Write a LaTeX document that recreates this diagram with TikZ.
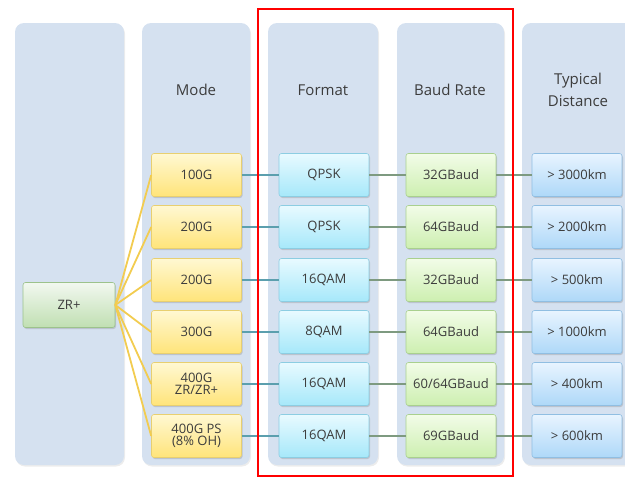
\documentclass[tikz,border=0pt]{standalone}
\usepackage{fontspec}
\setmainfont{Open Sans}
\usetikzlibrary{shadows}
\definecolor{panel}{HTML}{D5E1F0}
\definecolor{txt}{HTML}{3C3C3C}
\definecolor{fanc}{HTML}{F2CC50}
\definecolor{tealc}{HTML}{5B9FAE}
\definecolor{greyg}{HTML}{7E9A80}
\definecolor{mtop}{HTML}{FFF8D2}\definecolor{mbot}{HTML}{FFE47A}\definecolor{mdr}{HTML}{E8CF70}
\definecolor{ftop}{HTML}{E8FAFF}\definecolor{fbot}{HTML}{A6E8FA}\definecolor{fdr}{HTML}{8CCDE2}
\definecolor{btop}{HTML}{F2FCE8}\definecolor{bbot}{HTML}{CDEFB0}\definecolor{bdr}{HTML}{A9D08E}
\definecolor{dtop}{HTML}{E8F4FF}\definecolor{dbot}{HTML}{AED8F8}\definecolor{ddr}{HTML}{90BEE2}
\definecolor{ztop}{HTML}{F2F8F0}\definecolor{zbot}{HTML}{C0DFB2}\definecolor{zdr}{HTML}{9CC28C}
\tikzset{
  panelbox/.style={fill=panel, rounded corners=9pt, drop shadow={opacity=0.15, shadow xshift=1pt, shadow yshift=-1.5pt}},
  cell/.style={minimum width=90pt, minimum height=43pt, rounded corners=2.5pt, inner sep=1pt, align=center,
     font=\fontsize{13}{14}\selectfont, text=txt, line width=0.6pt,
     drop shadow={opacity=0.3, shadow xshift=1pt, shadow yshift=-1.5pt}},
  modebox/.style={cell, top color=mtop, bottom color=mbot, draw=mdr},
  fmtbox/.style={cell, top color=ftop, bottom color=fbot, draw=fdr},
  baudbox/.style={cell, top color=btop, bottom color=bbot, draw=bdr},
  distbox/.style={cell, top color=dtop, bottom color=dbot, draw=ddr},
  zrbox/.style={cell, minimum width=92pt, minimum height=45pt, top color=ztop, bottom color=zbot, draw=zdr},
  head/.style={font=\fontsize{15}{22}\selectfont, text=txt, align=center},
  fan/.style={draw=fanc, line width=1.8pt},
  linkA/.style={draw=tealc, line width=1.3pt},
  linkB/.style={draw=greyg, line width=1.3pt}
}
\begin{document}
\begin{tikzpicture}[x=1pt, y=-1pt]
\useasboundingbox (0,0) rectangle (625,477);
% panels
\fill[panelbox] (15,23) rectangle (124,465);
\fill[panelbox] (142,23) rectangle (250,465);
\fill[panelbox] (268,23) rectangle (378,465);
\fill[panelbox] (397,23) rectangle (504,465);
\fill[panelbox] (522,23) rectangle (640,465);
% headers
\node[head] (hm) at (196,90) {Mode};
\node[head] (hf) at (323,90) {Format};
\node[head] (hb) at (450,90) {Baud Rate};
\node[head] (hd) at (578,90) {Typical\\Distance};
% ZR+
\node[zrbox] (zr) at (69,305) {ZR+};
% rows
\foreach \i/\y/\m/\f/\b/\d in {
  1/175/100G/QPSK/32GBaud/{> 3000km},
  2/227/200G/QPSK/64GBaud/{> 2000km},
  3/280/200G/16QAM/32GBaud/{> 500km},
  4/332/300G/8QAM/64GBaud/{> 1000km},
  5/384/{400G\\[-2pt]ZR/ZR+}/16QAM/{60/64GBaud}/{> 400km},
  6/436/{400G PS\\[-2pt](8\% OH)}/16QAM/69GBaud/{> 600km}} {
  \node[modebox] (m\i) at (196.5,\y) {\m};
  \node[fmtbox] (f\i) at (324,\y) {\f};
  \node[baudbox] (b\i) at (451,\y) {\b};
  \node[distbox] (d\i) at (577,\y) {\d};
}
\foreach \i in {1,...,6} {
  \draw[linkA] (m\i) -- (f\i);
  \draw[linkB] (f\i) -- (b\i);
  \draw[linkB] (b\i) -- (d\i);
}
\foreach \i in {1,...,6} {
  \draw[fan] (zr.east) -- (m\i.west);
}
% red frame
\node[draw=red, line width=1.8pt, minimum width=255pt, minimum height=467pt, inner sep=0pt] (frame) at (385.5,242.5) {};
\end{tikzpicture}
\end{document}
